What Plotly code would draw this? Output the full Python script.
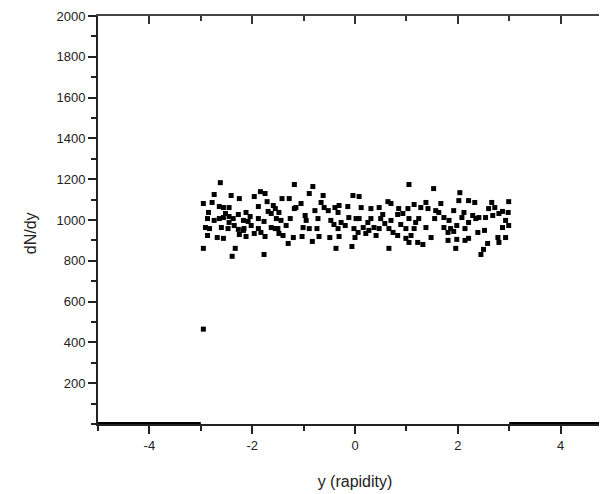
import plotly.graph_objects as go

# dN/dy vs rapidity
rapidity = [
    -2.62, -2.74, -2.41, -2.25, -1.96, -1.84, -1.75, -1.71, -2.95, -2.78,
    -2.64, -2.56, -2.45, -1.88, -1.59, -1.55, -2.85, -2.52, -2.45, -2.27,
    -2.12, -2.04, -1.69, -1.63, -2.87, -2.74, -2.64, -2.56, -2.37, -2.17,
    -2.08, -1.88, -1.77, -1.53, -2.91, -2.83, -2.60, -2.47, -2.35, -2.27,
    -2.16, -2.02, -1.88, -1.63, -1.55, -2.87, -2.68, -2.56, -2.25, -2.12,
    -1.96, -1.83, -1.75, -2.95, -2.33, -2.39, -1.77, -2.17, -2.45, -2.95,
    -1.18, -0.82, -1.28, -1.42, -0.89, -0.62, -0.04, -1.05, -1.15, -0.66,
    -0.60, -0.31, -0.14, -0.39, -1.18, -0.78, -0.52, -1.48, -0.97, -0.72,
    -0.33, -0.12, 0.02, -1.44, -1.26, -0.95, -0.47, -0.41, -0.19, -1.34,
    -1.50, -1.01, -0.89, -0.74, -0.33, -0.02, -1.40, -1.20, -1.03, -0.70,
    -0.49, -0.31, 0.00, -1.30, -0.83, -0.37, -0.06, -1.48, -0.27,
    1.05, 1.53, 0.08, 0.64, 0.70, 1.38, 1.15, 0.12, 0.31, 0.47,
    0.85, 1.03, 1.28, 1.42, 1.57, 0.83, 0.93, 0.54, 1.55, 0.08,
    0.31, 0.50, 0.70, 1.05, 1.24, 0.25, 0.58, 0.89, 1.18, 0.16,
    0.37, 0.47, 0.66, 0.99, 1.38, 1.15, 0.06, 0.21, 0.41, 0.74,
    0.83, 1.09, 1.48, 0.99, 1.05, 1.22, 1.32, 0.66, 0.27,
    2.04, 2.02, 2.21, 2.33, 2.99, 2.66, 1.67, 2.72, 2.60, 1.92,
    1.63, 2.12, 2.87, 2.98, 2.29, 2.41, 2.54, 2.68, 2.80, 1.73,
    1.83, 2.08, 2.21, 2.93, 2.99, 2.35, 1.73, 1.86, 1.98, 2.14,
    2.87, 1.81, 1.92, 2.39, 2.52, 2.78, 2.93, 1.81, 1.98, 2.14,
    2.21, 2.58, 1.96, 2.50, 2.45, 2.80,
]
dndy = [
    1183, 1125, 1120, 1105, 1115, 1139, 1130, 1090, 1081, 1086,
    1066, 1061, 1061, 1066, 1071, 1056, 1037, 1032, 1017, 1027,
    1037, 1017, 1042, 1032, 1007, 998, 1007, 1012, 1007, 998,
    993, 1007, 993, 1007, 963, 958, 963, 958, 973, 954,
    958, 973, 958, 963, 958, 924, 914, 910, 929, 919,
    934, 939, 919, 861, 861, 822, 831, 949, 988, 465,
    1174, 1164, 1105, 1105, 1130, 1120, 1120, 1081, 1061, 1086,
    1061, 1071, 1066, 1061, 1056, 1046, 1046, 1037, 1022, 1007,
    1037, 1012, 1007, 998, 1007, 998, 998, 978, 973, 973,
    958, 963, 958, 958, 958, 958, 924, 914, 919, 919,
    914, 919, 914, 885, 895, 861, 870, 934, 988,
    1174, 1154, 1115, 1090, 1081, 1086, 1076, 1061, 1056, 1061,
    1056, 1056, 1061, 1056, 1046, 1027, 1032, 1027, 1007, 1007,
    1007, 1007, 998, 1007, 1007, 988, 983, 978, 988, 963,
    963, 958, 958, 958, 963, 958, 939, 934, 924, 939,
    924, 924, 914, 910, 890, 890, 880, 861, 949,
    1134, 1095, 1095, 1086, 1090, 1086, 1081, 1061, 1056, 1046,
    1037, 1037, 1042, 1037, 1022, 1012, 1012, 1022, 1032, 1012,
    998, 1012, 988, 998, 973, 1007, 963, 958, 973, 958,
    963, 939, 944, 939, 949, 914, 914, 900, 905, 900,
    910, 885, 861, 856, 831, 890,
]

# zero yield outside the generated window
tail_left_x = [-5, -3]
tail_right_x = [3, 5]
tail_y = [0, 0]

x_ticks = [-4, -2, 0, 2, 4]
x_labels = ['-4', '-2', '0', '2', '4']
y_ticks = [200, 400, 600, 800, 1000, 1200, 1400, 1600, 1800, 2000]

fig = go.Figure()
fig.add_trace(go.Scatter(x=tail_left_x, y=tail_y, mode='lines',
                         line=dict(color='black', width=4), cliponaxis=False))
fig.add_trace(go.Scatter(x=tail_right_x, y=tail_y, mode='lines',
                         line=dict(color='black', width=4), cliponaxis=False))
fig.add_trace(go.Scatter(x=rapidity, y=dndy, mode='markers',
                         marker=dict(symbol='square', size=5, color='black', line_width=0)))
# top frame and right frame with inward ticks
fig.add_trace(go.Scatter(x=[None], y=[None], xaxis='x2', yaxis='y2', showlegend=False))

axis_font = dict(family='Liberation Sans, Arial', size=12, color='#222')

fig.update_layout(
    width=607, height=494,
    margin=dict(l=90, r=3, t=8, b=78),
    plot_bgcolor='white', paper_bgcolor='white',
    showlegend=False,
    font=axis_font,
    xaxis=dict(range=[-5, 5], tickvals=x_ticks, ticktext=x_labels, ticks='outside',
               ticklen=8, tickwidth=1.5, tickcolor='#222', showline=True,
               linecolor='#222', linewidth=2, showgrid=False, zeroline=False,
               automargin=False, tickfont=dict(size=13),
               minor=dict(dtick=1, tick0=-5, ticks='outside', ticklen=5, tickwidth=1.5,
                          tickcolor='#222', showgrid=False),
               title=dict(text='y (rapidity)', font=dict(size=16), standoff=24)),
    xaxis2=dict(range=[-5, 5], overlaying='x', side='top', tickvals=x_ticks,
                ticks='inside', ticklen=8, tickwidth=1.5, tickcolor='#333',
                showline=True, linecolor='#444', linewidth=2, showticklabels=False,
                showgrid=False, zeroline=False, automargin=False,
                minor=dict(dtick=1, tick0=-5, ticks='inside', ticklen=5, tickwidth=1.5,
                           tickcolor='#333', showgrid=False)),
    yaxis=dict(range=[0, 2000], tickvals=y_ticks, ticks='outside', ticklen=8, tickwidth=1.5,
               tickcolor='#222', showline=True, linecolor='#222', linewidth=2,
               showgrid=False, zeroline=False, tickfont=dict(size=13), automargin=False,
               minor=dict(dtick=100, tick0=0, ticks='outside', ticklen=5, tickwidth=1.5,
                          tickcolor='#222', showgrid=False)),
    yaxis2=dict(range=[0, 2000], overlaying='y', side='right', tickvals=y_ticks,
                ticks='inside', ticklen=8, tickwidth=1, tickcolor='#999',
                showline=False, showticklabels=False, showgrid=False, zeroline=False,
                automargin=False),
    annotations=[dict(text='dN/dy', xref='paper', yref='paper', x=-0.132, y=0.468,
                      textangle=-90, showarrow=False, font=dict(size=16),
                      xanchor='center', yanchor='middle')],
)

fig.write_html("out.html")
